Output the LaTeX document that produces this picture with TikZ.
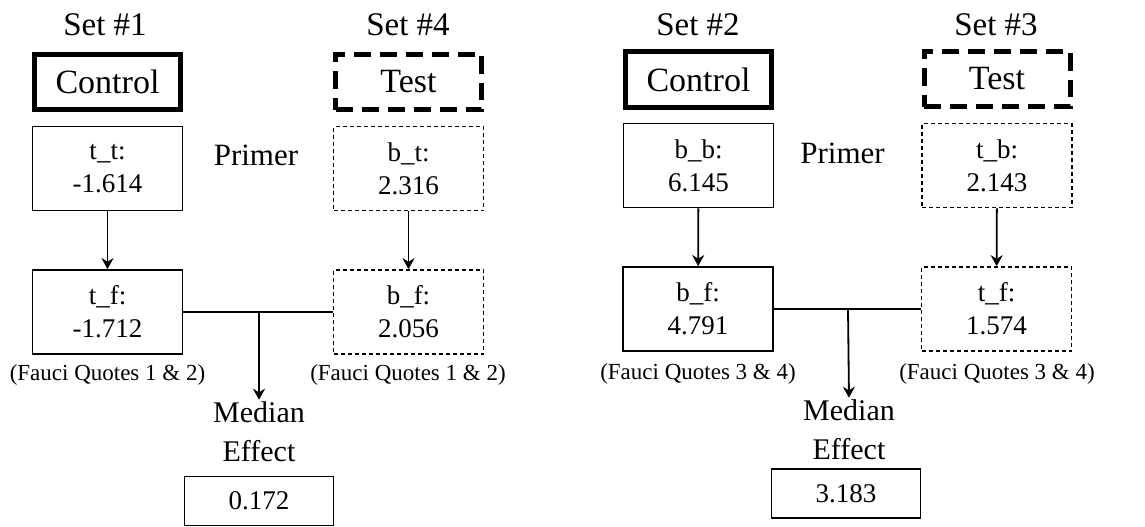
\documentclass[tikz,border=0pt]{standalone}
\usepackage{fontspec}
\setmainfont{Liberation Serif}
\usetikzlibrary{arrows.meta}

\begin{document}
\begin{tikzpicture}[x=1pt,y=-1pt,
	box/.style={draw,line width=1.8pt,minimum width=150pt,minimum height=84pt,inner sep=0pt,align=center,font=\fontsize{27}{33}\selectfont},
	dbox/.style={box,line width=1.6pt,dash pattern=on 4pt off 3pt},
	ctlbox/.style={draw,line width=5pt,minimum width=146pt,minimum height=55pt,inner sep=0pt,font=\fontsize{34}{40}\selectfont},
	testbox/.style={ctlbox,dash pattern=on 17pt off 9pt},
	hdr/.style={font=\fontsize{33}{40}\selectfont},
	quote/.style={font=\fontsize{23}{26}\selectfont},
	med/.style={align=center,inner sep=2pt,font=\fontsize{30}{39}\selectfont},
	res/.style={draw,line width=1.8pt,minimum width=149pt,minimum height=49pt,inner sep=0pt,font=\fontsize{27}{33}\selectfont},
	arr/.style={line width=1.8pt,-{Stealth[length=11pt,width=12pt]}}]
	\useasboundingbox (0,0) rectangle (1145,527);
	% left half: sets 1 and 4
	\node[hdr] (s1) at (105,25) {Set \#1};
	\node[hdr] (s4) at (408,25) {Set \#4};
	\node[ctlbox] (c1) at (107.5,82) {Control};
	\node[testbox] (t4) at (408.5,82) {Test};
	\node[box] (tt) at (107.5,168.5) {t\_t:\\-1.614};
	\node[dbox] (bt) at (408.5,168.5) {b\_t:\\2.316};
	\node[font=\fontsize{31}{36}\selectfont] (p1) at (256,155) {Primer};
	\node[box] (tf) at (107.5,312) {t\_f:\\-1.712};
	\node[dbox] (bf) at (408.5,312) {b\_f:\\2.056};
	\node[quote] (q1) at (107.5,375) {(Fauci Quotes 1 \& 2)};
	\node[quote] (q4) at (408,375) {(Fauci Quotes 1 \& 2)};
	\node[med] (m1) at (259,432) {Median\\Effect};
	\node[res] (r1) at (259,501) {0.172};
	\draw[arr] (tt) -- (tf);
	\draw[arr] (bt) -- (bf);
	\draw[line width=1.8pt] (tf.east) -- (bf.west);
	\coordinate (j1) at (259,312);
	\draw[arr] (j1) -- (m1.north);
	% right half: sets 2 and 3
	\node[hdr] (s2) at (698,25) {Set \#2};
	\node[hdr] (s3) at (996,25) {Set \#3};
	\node[ctlbox] (c2) at (698.5,79.5) {Control};
	\node[testbox] (t3) at (997,79) {Test};
	\node[box] (bb) at (698.5,165.5) {b\_b:\\6.145};
	\node[dbox] (tb) at (997,165.5) {t\_b:\\2.143};
	\node[font=\fontsize{31}{36}\selectfont] (p2) at (842.5,153) {Primer};
	\node[box] (bf2) at (698,309) {b\_f:\\4.791};
	\node[dbox] (tf2) at (996.5,309) {t\_f:\\1.574};
	\node[quote] (q2) at (698,374) {(Fauci Quotes 3 \& 4)};
	\node[quote] (q3) at (997,374) {(Fauci Quotes 3 \& 4)};
	\node[med] (m2) at (849,430) {Median\\Effect};
	\node[res] (r2) at (846,493.5) {3.183};
	\draw[arr] (bb) -- (bf2);
	\draw[arr] (tb) -- (tf2);
	\draw[line width=1.8pt] (bf2.east) -- (tf2.west);
	\coordinate (j2) at (848,309);
	\draw[arr] (j2) -- (m2.north);
\end{tikzpicture}
\end{document}
